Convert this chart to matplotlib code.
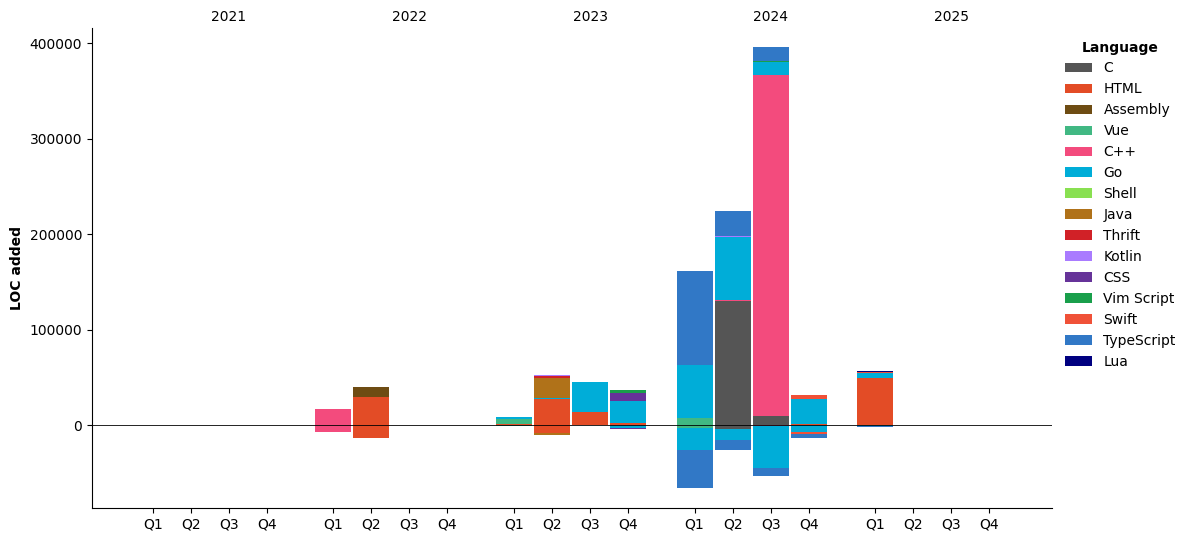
import numpy as np
import matplotlib
matplotlib.use("Agg")
import matplotlib.pyplot as plt

years = ["2021", "2022", "2023", "2024", "2025"]
quarters = ["Q1", "Q2", "Q3", "Q4"]

languages = ["C", "HTML", "Assembly", "Vue", "C++", "Go", "Shell", "Java", "Thrift",
             "Kotlin", "CSS", "Vim Script", "Swift", "TypeScript", "Lua"]
colors = ["#555555", "#e34c26", "#6e4c13", "#41b883", "#f34b7d", "#00add8", "#89e051",
          "#b07219", "#d12127", "#a97bff", "#663399", "#199f4b", "#f05138", "#3178c6", "#000080"]

# lines added per quarter (2021 Q1 ... 2025 Q4), one list per language
#              2021          2022                 2023                          2024                                2025
added_c      = [0, 0, 0, 0,  0, 0, 0, 0,          0, 0, 0, 0,                   0, 129800, 9400, 0,                 0, 0, 0, 0]
added_html   = [0, 0, 0, 0,  0, 29300, 0, 0,      1000, 27200, 13900, 2400,     0, 0, 0, 1000,                      49500, 0, 0, 0]
added_asm    = [0, 0, 0, 0,  0, 10500, 0, 0,      0, 0, 0, 0,                   0, 0, 0, 0,                         0, 0, 0, 0]
added_vue    = [0, 0, 0, 0,  0, 0, 0, 0,          5000, 0, 0, 0,                7300, 0, 0, 0,                      0, 0, 0, 0]
added_cpp    = [0, 0, 0, 0,  16750, 0, 0, 0,      0, 0, 0, 0,                   0, 1000, 357000, 0,                 0, 0, 0, 0]
added_go     = [0, 0, 0, 0,  0, 0, 0, 0,          2000, 1400, 31100, 23000,     55500, 66000, 13600, 25800,         4900, 0, 0, 0]
added_shell  = [0, 0, 0, 0,  0, 0, 0, 0,          0, 0, 0, 0,                   0, 0, 0, 0,                         0, 0, 0, 0]
added_java   = [0, 0, 0, 0,  0, 0, 0, 0,          0, 20900, 0, 0,               0, 0, 0, 0,                         0, 0, 0, 0]
added_thrift = [0, 0, 0, 0,  0, 0, 0, 0,          0, 2100, 0, 0,                0, 0, 0, 0,                         0, 0, 0, 0]
added_kotlin = [0, 0, 0, 0,  0, 0, 0, 0,          0, 700, 0, 0,                 0, 1000, 0, 0,                      0, 0, 0, 0]
added_css    = [0, 0, 0, 0,  0, 0, 0, 0,          0, 0, 0, 8000,                0, 0, 0, 0,                         0, 0, 0, 0]
added_vim    = [0, 0, 0, 0,  0, 0, 0, 0,          0, 0, 0, 3100,                0, 0, 1000, 0,                      0, 0, 0, 0]
added_swift  = [0, 0, 0, 0,  0, 0, 0, 0,          0, 0, 0, 0,                   0, 0, 0, 4500,                      1400, 0, 0, 0]
added_ts     = [0, 0, 0, 0,  0, 0, 0, 0,          0, 0, 0, 0,                   98400, 26000, 14700, 0,             0, 0, 0, 0]
added_lua    = [0, 0, 0, 0,  0, 0, 0, 0,          0, 0, 0, 0,                   0, 0, 0, 0,                         1000, 0, 0, 0]

# lines removed per quarter (negative)
removed_c      = [0, 0, 0, 0,  0, 0, 0, 0,         0, 0, 0, 0,                 0, -4500, 0, 0,                     0, 0, 0, 0]
removed_html   = [0, 0, 0, 0,  0, -13300, 0, 0,    0, -8400, 0, 0,             0, 0, 0, 0,                         0, 0, 0, 0]
removed_asm    = [0] * 20
removed_vue    = [0, 0, 0, 0,  0, 0, 0, 0,         -1500, 0, 0, 0,             -3500, 0, 0, 0,                     0, 0, 0, 0]
removed_cpp    = [0, 0, 0, 0,  -7000, 0, 0, 0,     0, 0, 0, 0,                 0, 0, -1500, 0,                     0, 0, 0, 0]
removed_go     = [0, 0, 0, 0,  0, 0, 0, 0,         0, 0, 0, -3000,             -23000, -11500, -43200, -7000,      -1500, 0, 0, 0]
removed_shell  = [0] * 20
removed_java   = [0, 0, 0, 0,  0, 0, 0, 0,         0, -2100, 0, 0,             0, 0, 0, 0,                         0, 0, 0, 0]
removed_thrift = [0] * 20
removed_kotlin = [0] * 20
removed_css    = [0, 0, 0, 0,  0, 0, 0, 0,         0, 0, 0, -1300,             0, 0, 0, 0,                         0, 0, 0, 0]
removed_vim    = [0] * 20
removed_swift  = [0, 0, 0, 0,  0, 0, 0, 0,         0, 0, 0, 0,                 0, 0, 0, -2000,                     0, 0, 0, 0]
removed_ts     = [0, 0, 0, 0,  0, 0, 0, 0,         0, 0, 0, 0,                 -39800, -10500, -8400, -4200,       -700, 0, 0, 0]
removed_lua    = [0] * 20

added = [added_c, added_html, added_asm, added_vue, added_cpp, added_go, added_shell, added_java,
         added_thrift, added_kotlin, added_css, added_vim, added_swift, added_ts, added_lua]
removed = [removed_c, removed_html, removed_asm, removed_vue, removed_cpp, removed_go, removed_shell,
           removed_java, removed_thrift, removed_kotlin, removed_css, removed_vim, removed_swift,
           removed_ts, removed_lua]

# x positions: quarters next to each other, a small gap between years
gap = 0.75
x = np.array([yi * (4 + gap) + qi for yi in range(len(years)) for qi in range(4)])

fig = plt.figure(figsize=(11.91, 5.42), dpi=100)
ax = fig.add_axes([0.0772, 0.0627, 0.8061, 0.8856])

pos_bottom = np.zeros(len(x))
neg_bottom = np.zeros(len(x))
for lang, col, add, rem in zip(languages, colors, added, removed):
    add = np.array(add, dtype=float)
    rem = np.array(rem, dtype=float)
    ax.bar(x, add, width=0.95, bottom=pos_bottom, color=col, label=lang)
    ax.bar(x, rem, width=0.95, bottom=neg_bottom, color=col)
    pos_bottom += add
    neg_bottom += rem

ax.axhline(0, color="black", linewidth=0.6)

ax.set_xticks(x)
ax.set_xticklabels(quarters * len(years))
ax.set_xlim(-1.6, 23.65)
ax.set_ylim(-86900, 415700)
ax.set_ylabel("LOC added", fontweight="bold")
ax.spines["top"].set_visible(False)
ax.spines["right"].set_visible(False)

# year labels on top
top = ax.secondary_xaxis("top")
top.set_xticks([yi * (4 + gap) + 2 for yi in range(len(years))])
top.set_xticklabels(years)
top.tick_params(length=0, pad=3)
top.spines["top"].set_visible(False)

leg = ax.legend(title="Language", loc="upper left", bbox_to_anchor=(1.0, 1.0), frameon=False)
leg.get_title().set_fontweight("bold")

fig.savefig("out.png", dpi=100)
